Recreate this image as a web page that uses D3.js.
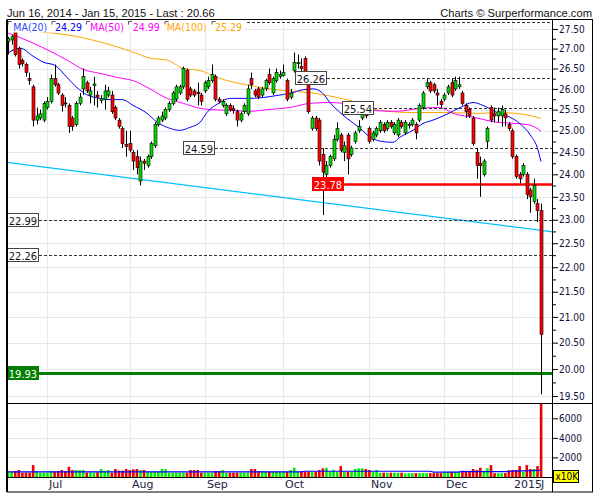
<!DOCTYPE html>
<html><head><meta charset="utf-8">
<script src="https://cdn.jsdelivr.net/npm/d3@7"></script>
<style>body{margin:0;background:#fff}svg{display:block}</style>
</head><body>
<svg id="c" width="600" height="500"></svg>
<script>
// ---------- DATA ----------
const titleText = "Jun 16, 2014 - Jan 15, 2015 - Last : 20.66";
const creditText = "Charts \u00A9 Surperformance.com";
const openP = [27.18,27.22,27.45,27.00,26.70,26.60,26.25,26.05,25.25,25.30,25.25,25.55,25.70,26.25,26.10,25.85,25.66,25.60,25.30,25.15,
25.65,26.00,26.15,25.85,26.08,25.85,25.72,25.75,25.85,25.85,25.55,25.25,25.05,24.68,24.70,24.50,24.40,23.85,24.30,24.20,
24.40,24.65,25.15,25.25,25.30,25.50,25.65,25.75,25.90,26.05,26.45,26.00,25.95,25.92,25.85,25.95,26.05,26.20,26.30,25.75,
25.60,25.40,25.60,25.52,25.45,25.25,25.45,25.40,26.25,25.95,26.00,25.85,26.00,26.35,25.90,26.20,26.30,26.33,26.20,25.80,
26.45,26.62,26.55,26.75,26.10,25.05,25.30,25.25,24.45,24.00,24.20,24.35,24.80,24.90,24.50,24.90,24.45,24.75,25.00,25.30,
25.45,25.05,24.80,24.90,25.00,25.15,25.05,25.20,24.95,24.90,25.20,24.95,25.12,25.15,25.15,25.25,25.55,26.05,26.15,26.10,
25.90,25.70,25.75,25.90,26.15,26.00,26.05,25.90,25.60,25.50,25.30,24.50,24.25,24.00,24.75,25.55,25.40,25.35,25.35,25.40,
25.15,25.00,24.40,24.00,24.00,24.00,23.65,23.40,23.35,23.20];
const highP = [27.30,27.35,27.60,27.05,26.75,26.65,26.40,26.10,25.55,25.50,25.70,25.80,26.35,26.60,26.15,25.90,25.80,25.65,25.35,25.70,
25.90,26.50,26.20,26.05,26.30,25.95,25.85,26.10,26.05,25.95,25.60,25.30,25.10,25.00,25.00,24.55,24.55,24.40,24.35,24.45,
24.75,25.20,25.35,25.45,25.55,25.70,25.95,26.10,26.10,26.55,26.50,26.05,26.00,26.15,25.90,26.20,26.30,26.60,26.35,25.80,
25.75,25.65,25.65,25.60,25.50,25.45,25.65,26.10,26.40,26.00,26.05,26.05,26.25,26.50,26.30,26.50,26.45,26.60,26.25,26.00,
26.90,26.85,26.75,26.80,26.20,25.35,25.35,25.30,24.60,24.30,24.45,24.90,25.20,24.95,24.75,24.95,24.65,25.00,25.25,25.55,
25.50,25.10,25.00,25.10,25.25,25.20,25.25,25.25,25.20,25.30,25.25,25.25,25.20,25.30,25.20,25.65,25.95,26.25,26.20,26.15,
26.00,25.75,25.90,26.10,26.25,26.30,26.30,25.95,25.65,25.55,25.35,24.60,24.40,24.35,25.10,25.60,25.55,25.55,25.60,25.50,
25.20,25.05,24.45,24.05,24.25,24.05,23.70,23.90,23.45,23.35];
const lowP = [26.85,27.10,26.80,26.50,26.55,26.30,26.10,25.10,25.15,25.25,25.20,25.50,25.65,26.05,25.85,25.45,25.55,24.95,25.00,25.10,
25.60,25.85,25.90,25.65,25.60,25.55,25.65,25.50,25.80,25.40,25.25,25.05,24.60,24.40,24.50,24.10,24.00,23.75,24.10,24.15,
24.35,24.60,25.10,25.20,25.25,25.45,25.60,25.70,25.85,26.00,25.70,25.80,25.80,25.60,25.60,25.90,26.00,26.15,25.70,25.65,
25.55,25.35,25.45,25.40,25.10,25.20,25.40,25.35,26.00,25.80,25.75,25.80,25.95,26.10,25.85,26.15,26.25,26.30,25.70,25.75,
26.40,26.50,26.30,26.35,25.40,25.00,25.00,24.20,23.10,23.85,24.15,24.30,24.75,24.50,24.30,24.00,24.40,24.70,24.95,25.25,
25.30,24.70,24.75,24.85,24.95,24.95,25.00,25.05,24.90,24.85,25.05,24.90,25.05,25.10,24.80,25.20,25.50,26.00,25.90,25.90,
25.60,25.55,25.70,25.85,25.80,25.95,26.00,25.60,25.30,25.30,24.65,23.90,23.50,23.95,24.60,25.20,25.20,25.20,25.10,25.10,
25.00,24.35,23.90,23.80,23.95,23.45,23.15,23.35,22.95,19.53];
const closeP = [27.25,27.30,26.85,26.60,26.62,26.40,26.20,25.25,25.35,25.40,25.65,25.70,26.25,26.10,25.90,25.60,25.64,25.10,25.10,25.65,
25.80,26.30,25.95,25.95,26.12,25.80,25.77,25.95,25.95,25.45,25.30,25.10,24.70,24.63,24.55,24.30,24.15,24.30,24.25,24.40,
24.70,25.15,25.30,25.35,25.50,25.65,25.90,26.05,26.05,26.50,25.75,25.85,25.85,25.88,25.70,26.15,26.20,26.35,25.75,25.70,
25.70,25.60,25.50,25.48,25.25,25.40,25.60,26.00,26.10,25.85,25.80,26.00,26.20,26.15,26.25,26.40,26.35,26.40,25.75,25.90,
26.65,26.65,26.50,26.40,25.45,25.30,25.05,24.30,24.05,24.20,24.40,24.80,25.05,24.55,24.65,24.35,24.60,24.95,25.10,25.50,
25.35,24.75,24.95,25.05,25.20,25.00,25.20,25.10,25.15,25.25,25.10,25.20,25.15,25.25,24.95,25.60,25.90,26.15,25.95,25.95,
25.85,25.62,25.85,26.05,25.85,26.20,26.10,25.65,25.45,25.35,24.70,24.20,24.20,24.30,25.05,25.25,25.35,25.45,25.50,25.30,
25.05,24.40,23.95,23.90,24.20,23.55,23.50,23.75,23.20,20.66];
// volume in units of 10K shares
const volume = [540,540,610,710,450,450,450,1220,610,450,450,450,610,540,610,710,610,1050,710,710,
710,710,450,480,450,480,820,610,710,440,820,650,650,820,710,780,820,710,710,540,
540,540,540,820,820,440,440,440,440,440,440,710,710,710,440,440,440,440,610,610,
710,440,440,440,440,440,440,440,820,820,610,610,540,540,540,540,540,540,540,710,
950,540,540,540,540,540,540,710,890,950,540,710,540,1120,540,540,540,820,890,890,
820,710,540,710,440,440,440,440,440,440,440,380,400,400,400,400,400,400,400,400,
400,400,540,540,540,540,540,540,540,540,820,710,950,540,890,1220,400,400,400,400,
710,710,710,1120,540,1220,820,820,1120,9000];
// moving averages: [bar index, price]
const ma20 = [[0,26.89],[3.4,27.01],[7,26.81],[9.8,26.66],[13.1,26.58],[16.5,26.28],[19.3,26.03],[22,25.86],[25.7,25.77],[28.5,25.74],
[31.9,25.74],[35,25.60],[38.9,25.41],[41.7,25.20],[44.5,25.08],[48,25.01],[50.9,25.08],[53.7,25.20],[55.6,25.43],[59.3,25.67],
[62,25.77],[67.7,25.77],[71.3,25.79],[75.2,25.84],[78.8,25.89],[82.5,25.98],[85.3,26.00],[87.8,25.91],[90,25.67],[94.8,25.29],
[98.4,25.06],[101.2,24.85],[104,24.76],[107.6,24.73],[109.6,24.85],[113.2,25.01],[116,25.17],[118.8,25.25],[122.7,25.39],[126.4,25.55],
[130,25.67],[132.8,25.60],[136.7,25.43],[140.3,25.32],[143.1,25.17],[146,24.90],[147.9,24.62],[149,24.29]];
const ma50 = [[0,27.40],[7,27.14],[16.5,26.71],[21,26.48],[25.7,26.38],[30.5,26.28],[35,26.20],[39.7,26.00],[44.5,25.77],[49,25.65],
[53.7,25.53],[56.5,25.50],[63,25.48],[67.7,25.46],[72.4,25.50],[78.8,25.55],[84.4,25.65],[90,25.67],[93.7,25.65],[102,25.48],
[108.7,25.46],[115.2,25.53],[120.8,25.55],[124.4,25.41],[130,25.32],[136.7,25.20],[142.3,25.17],[146,25.13],[149,24.99]];
const ma100 = [[0,27.50],[9.8,27.42],[16.5,27.35],[25.7,27.17],[35,26.91],[39.7,26.76],[44.5,26.71],[49,26.50],[53.7,26.45],[58.4,26.28],
[67.7,26.08],[76.9,25.96],[84.4,25.91],[92,25.79],[95.6,25.72],[104,25.48],[113.2,25.43],[122.7,25.43],[132,25.41],[136.7,25.43],
[144,25.39],[149,25.29]];
const maNames = ["MA(20)","MA(50)","MA(100)"];
const maLast = [24.29,24.99,25.29];
// volume moving average: [bar index, volume]
const volMA = [[0,520],[82,520],[83,590],[118,590],[119,500],[126,500],[127,570],[129,540],[140,540],[141,610],[149,680]];
// support / resistance levels
const levelValues = [27.68,26.26,25.54,24.59,23.78,22.99,22.26,19.93];
const levelStart  = [-0.3, 80.3, 93.4, 49.0, 85.0, -0.3, -0.3, -0.3]; // bar index where the label sits
const levelKind   = ["dash","dash","dash","dash","red","dash","dash","green"];
const levelLabel  = [false,true,true,true,true,true,true,true];
// trend line: [bar index, price]
const trend = [[-0.3,24.27],[152.4,22.74]];
// axis ticks
const priceTicks = d3.range(19.5, 27.51, 0.5);
const priceMinor = d3.range(19.75, 27.5, 0.5);
const volTicks = [2000,4000,6000];
const monthLabels = ["Jul","Aug","Sep","Oct","Nov","Dec","2015"];
const monthStart  = [11,34,55,77,101,122,141];

// ---------- LAYOUT ----------
const L = 7, R = 553, FR = 593, PT = 20, PB = 403, VB = 477, FB = 492;
const N = closeP.length;
const svg = d3.select("#c");
const x = d3.scaleLinear().domain([0, N-1]).range([8, 541]);
const y = d3.scaleLog().domain([19.5, 27.5]).range([396, 29]);
const v = d3.scaleLinear().domain([0, 6000]).range([VB, 418.3]);
const cond = "'DejaVu Sans Condensed','DejaVu Sans',sans-serif";
const px = a => Math.round(a) + 0.5;

const defs = svg.append("defs");
defs.append("clipPath").attr("id","cp").append("rect").attr("x",L).attr("y",PT).attr("width",R-L).attr("height",PB-PT);
defs.append("clipPath").attr("id","cv").append("rect").attr("x",L).attr("y",PB).attr("width",R-L).attr("height",VB-PB);

// grid
const grid = svg.append("g").attr("stroke","#e8e8e8").attr("stroke-width",1);
priceTicks.forEach(t => grid.append("line").attr("x1",L).attr("x2",R).attr("y1",px(y(t))).attr("y2",px(y(t))));
volTicks.forEach(t => grid.append("line").attr("x1",L).attr("x2",R).attr("y1",px(v(t))).attr("y2",px(v(t))));
monthStart.forEach(i => grid.append("line").attr("x1",px(x(i))).attr("x2",px(x(i))).attr("y1",PT).attr("y2",VB));

// price panel
const gp = svg.append("g").attr("clip-path","url(#cp)");
// trend line
gp.append("path").attr("d", d3.line().x(d=>x(d[0])).y(d=>y(d[1]))(trend))
  .attr("fill","none").attr("stroke","#00bfff").attr("stroke-width",1.3);
// moving averages
const maLine = d3.line().x(d=>x(d[0])).y(d=>y(d[1])).curve(d3.curveMonotoneX);
[[ma100,"#ffa500"],[ma50,"#ff00ff"],[ma20,"#0000ff"]].forEach(([d,c]) =>
  gp.append("path").attr("d", maLine(d)).attr("fill","none").attr("stroke",c).attr("stroke-width",1));

// levels
const boxW = 32, boxH = 13;
levelValues.forEach((val,k) => {
  const yy = Math.round(y(val));
  const bx = levelLabel[k] ? Math.max(L, Math.round(x(levelStart[k]))) : L;
  const x1 = levelLabel[k] ? bx + boxW : L;
  const kind = levelKind[k];
  const ln = gp.append("line").attr("x1",x1).attr("x2",R).attr("y1",yy+0.5).attr("y2",yy+0.5);
  if (kind === "dash") ln.attr("stroke","#333").attr("stroke-width",1).attr("stroke-dasharray","3,2");
  else if (kind === "red") ln.attr("stroke","#ff0000").attr("stroke-width",2.5);
  else ln.attr("stroke","#008000").attr("stroke-width",3);
});

// candles
const up = "#00dd00", dn = "#ff0000";
for (let i=0;i<N;i++){
  const cx = Math.round(x(i));
  gp.append("line").attr("x1",cx+0.5).attr("x2",cx+0.5).attr("y1",y(highP[i])).attr("y2",y(lowP[i]))
    .attr("stroke","#000").attr("stroke-width",1);
  const top = y(Math.max(openP[i],closeP[i])), bot = y(Math.min(openP[i],closeP[i]));
  gp.append("rect").attr("x",cx-1).attr("y",top).attr("width",3).attr("height",Math.max(1,bot-top))
    .attr("fill", closeP[i] >= openP[i] ? up : dn).attr("stroke","#000").attr("stroke-width",0.6);
}

// level labels (on top)
levelValues.forEach((val,k) => {
  if (!levelLabel[k]) return;
  const yy = Math.round(y(val));
  const bx = Math.max(L, Math.round(x(levelStart[k])));
  const kind = levelKind[k];
  const fill = kind==="red" ? "#ff0000" : kind==="green" ? "#008000" : "#fff";
  const tc = kind==="dash" ? "#111" : "#fff";
  svg.append("rect").attr("x",bx+0.5).attr("y",yy-6.5).attr("width",boxW-1).attr("height",boxH)
    .attr("fill",fill).attr("stroke", kind==="dash" ? "#444" : fill).attr("stroke-width",1);
  svg.append("text").attr("x",bx+boxW/2).attr("y",yy+4.5).attr("text-anchor","middle")
    .attr("font-family",cond).attr("font-stretch","condensed").attr("font-size",11).attr("fill",tc)
    .text(d3.format(".2f")(val));
});

// legend
const legX = [13.3,55,90,132.7,166.7,215];
const legCorner = [7.5,51.5,86,128,164.5,211.5];
const legC = ["#2a48ff","#0000ff","#ff00ff","#ff00ff","#ffa500","#ffa500"];
svg.append("rect").attr("x",8).attr("y",20.5).attr("width",237).attr("height",12).attr("fill","#fff");
legCorner.forEach(c => svg.append("path").attr("d",`M${c+0.5},24.5V21.5H${c+4}`).attr("fill","none").attr("stroke","#555").attr("stroke-width",1));
const legT = [maNames[0], d3.format(".2f")(maLast[0]), maNames[1], d3.format(".2f")(maLast[1]), maNames[2], d3.format(".2f")(maLast[2])];
legT.forEach((t,k) => svg.append("text").attr("x",legX[k]).attr("y",30.6).attr("font-family",cond)
  .attr("font-stretch","condensed").attr("font-size",10.5).attr("fill",legC[k]).text(t));

// volume panel
const gv = svg.append("g").attr("clip-path","url(#cv)");
for (let i=0;i<N;i++){
  const cx = x(i);
  gv.append("rect").attr("x",cx-1.2).attr("y",v(volume[i])).attr("width",2.6).attr("height",VB - v(volume[i]))
    .attr("fill", closeP[i] >= openP[i] ? "#00ee00" : "#ee0000");
}
gv.append("path").attr("d", d3.line().x(d=>x(d[0])).y(d=>v(d[1]))(volMA))
  .attr("fill","none").attr("stroke","#0000ff").attr("stroke-width",1.2);

// axes
function styleAxis(g){
  g.select(".domain").remove();
  g.attr("font-family",cond).attr("font-size",10);
  g.selectAll("text").attr("fill","#11113a").attr("font-stretch","condensed");
  g.selectAll("line").attr("stroke","#000");
}
svg.append("g").attr("transform",`translate(${R},0)`)
  .call(d3.axisRight(y).tickValues(priceTicks).tickFormat(d3.format(".2f")).tickSize(5).tickPadding(1)).call(styleAxis);
svg.append("g").attr("transform",`translate(${R},0)`)
  .call(d3.axisRight(y).tickValues(priceMinor).tickFormat("").tickSize(3)).call(styleAxis);
svg.append("g").attr("transform",`translate(${R},0)`)
  .call(d3.axisRight(v).tickValues(volTicks).tickFormat(d3.format("d")).tickSize(5).tickPadding(1)).call(styleAxis);

// month labels
monthLabels.forEach((m,k) => svg.append("text").attr("x",Math.round(x(monthStart[k]))+2).attr("y",487.5)
  .attr("font-family","'DejaVu Sans',sans-serif").attr("font-size",11).attr("fill","#222244").text(m));
svg.append("text").attr("x",541).attr("y",487.5).attr("font-family","'DejaVu Sans',sans-serif")
  .attr("font-size",11).attr("fill","#222244").text("J");

// x10K badge
svg.append("rect").attr("x",553.5).attr("y",470.5).attr("width",25).attr("height",12).attr("fill","#ffff00").attr("stroke","#000");
svg.append("text").attr("x",555.5).attr("y",480).attr("font-family",cond).attr("font-stretch","condensed")
  .attr("font-size",10).attr("fill","#000").text("x10K");

// frame
const fr = svg.append("g").attr("stroke","#000").attr("fill","none");
fr.append("rect").attr("x",L+0.5).attr("y",19.5).attr("width",FR-L-1).attr("height",FB-19.5);
fr.append("line").attr("x1",L-0.5).attr("x2",L-0.5).attr("y1",19.5).attr("y2",FB);
fr.append("line").attr("x1",R-0.5).attr("x2",R-0.5).attr("y1",19.5).attr("y2",FB);
fr.append("line").attr("x1",L).attr("x2",FR).attr("y1",PB+0.5).attr("y2",PB+0.5);
fr.append("line").attr("x1",L).attr("x2",R).attr("y1",VB+0.5).attr("y2",VB+0.5);

// titles
svg.append("text").attr("x",7).attr("y",16.5).attr("font-family","Arial,'Liberation Sans',sans-serif")
  .attr("font-size",11.2).attr("fill","#111").text(titleText);
svg.append("text").attr("x",592).attr("y",16.5).attr("text-anchor","end").attr("font-family","Arial,'Liberation Sans',sans-serif")
  .attr("font-size",11.2).attr("fill","#111").text(creditText);
</script>
</body></html>
